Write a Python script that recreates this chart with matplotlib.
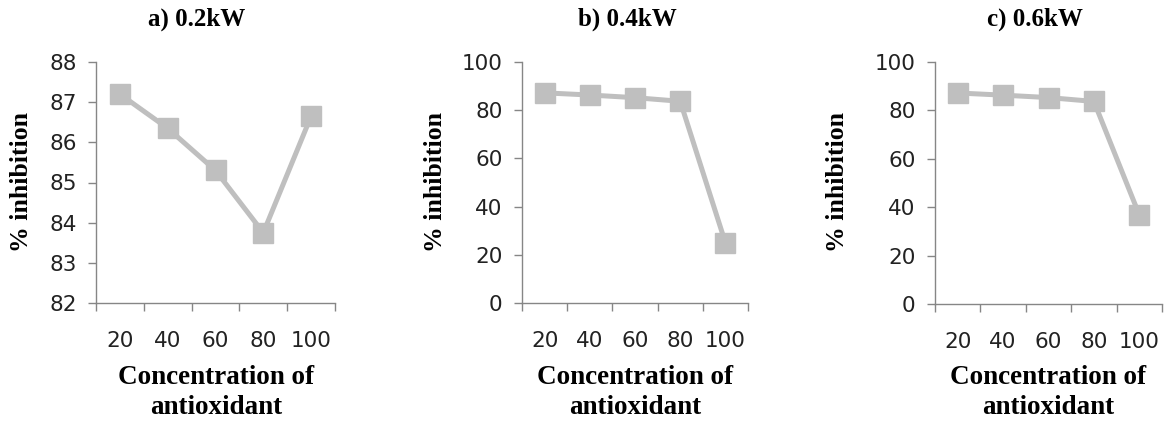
import matplotlib

matplotlib.use("Agg")
import matplotlib.pyplot as plt
from matplotlib.ticker import FixedLocator

concentrations = ["20", "40", "60", "80", "100"]
inhibition_02kw = [87.2, 86.35, 85.3, 83.75, 86.65]
inhibition_04kw = [87.2, 86.3, 85.2, 83.7, 25.0]
inhibition_06kw = [87.2, 86.3, 85.3, 83.7, 36.8]

titles = ["a) 0.2kW", "b) 0.4kW", "c) 0.6kW"]
series = [inhibition_02kw, inhibition_04kw, inhibition_06kw]
y_limits = [(82, 88), (0, 100), (0, 100)]
y_steps = [1, 20, 20]

# axes boxes in pixels: left, right, top, bottom
boxes = [(96, 335, 62, 303), (522, 748, 62, 303), (935, 1162, 62, 304)]
title_x = [197, 627, 1035]
ylabel_x = [22, 435, 838]
xlabel_x = [216, 635, 1048]

W, H = 1166, 424
fig = plt.figure(figsize=(W / 100, H / 100), dpi=100)

tick_font = "DejaVu Sans"
label_font = "Liberation Serif"
grey = "#BFBFBF"
axis_grey = "#868686"

for i in range(3):
    l, r, t, b = boxes[i]
    ax = fig.add_axes([l / W, 1 - b / H, (r - l) / W, (b - t) / H])
    x = list(range(1, len(concentrations) + 1))
    ax.plot(x, series[i], color=grey, linewidth=3.6, marker="s",
            markersize=14, markerfacecolor=grey, markeredgecolor=grey, zorder=3)
    ax.set_xlim(0.5, len(concentrations) + 0.5)
    lo, hi = y_limits[i]
    ax.set_ylim(lo, hi)
    ax.set_yticks(list(range(lo, hi + 1, y_steps[i])))
    ax.set_xticks(x)
    ax.set_xticklabels(concentrations)
    ax.xaxis.set_minor_locator(FixedLocator([k + 0.5 for k in range(0, len(concentrations) + 1)]))
    ax.tick_params(axis="x", which="major", length=0, pad=20, labelsize=15.5)
    ax.tick_params(axis="x", which="minor", length=6, width=1, color=axis_grey, direction="out")
    ax.tick_params(axis="y", length=6, width=1, color=axis_grey, pad=8, labelsize=15.5)
    for lab in ax.get_xticklabels() + ax.get_yticklabels():
        lab.set_fontfamily(tick_font)
        lab.set_color("#222222")
    for side in ["top", "right"]:
        ax.spines[side].set_visible(False)
    for side in ["left", "bottom"]:
        ax.spines[side].set_color(axis_grey)
        ax.spines[side].set_linewidth(1)
    ax.spines["left"].set_zorder(1)

    fig.text(title_x[i] / W, 1 - 19 / H, titles[i], ha="center", va="center",
             fontsize=18, fontweight="bold", fontfamily=label_font)
    fig.text(ylabel_x[i] / W, 1 - 182 / H, "% inhibition", ha="center", va="center",
             rotation=90, fontsize=18.5, fontweight="bold", fontfamily=label_font)
    fig.text(xlabel_x[i] / W, 1 - 378 / H, "Concentration of", ha="center", va="center",
             fontsize=19.5, fontweight="bold", fontfamily=label_font)
    fig.text(xlabel_x[i] / W, 1 - 408 / H, "antioxidant", ha="center", va="center",
             fontsize=19.5, fontweight="bold", fontfamily=label_font)

fig.savefig("out.png", dpi=100)
